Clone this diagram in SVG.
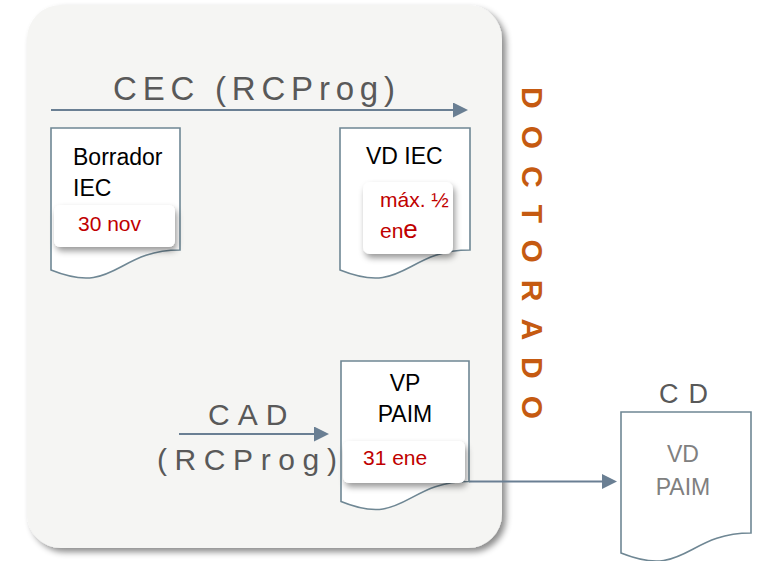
<svg xmlns="http://www.w3.org/2000/svg" width="760" height="561" viewBox="0 0 760 561">
<defs>
<style>
.doc{fill:#ffffff;stroke:#6f8794;stroke-width:1.6}
.tag{fill:#ffffff;filter:url(#tagShadow)}
.blk{font-family:"Liberation Sans",Arial,sans-serif;font-size:23px;fill:#000000}
.red{font-family:"Liberation Sans",Arial,sans-serif;font-size:21px;fill:#c00000}
.gry{font-family:"Liberation Sans",Arial,sans-serif;fill:#595959}
.lgry{font-family:"Liberation Sans",Arial,sans-serif;font-size:23px;fill:#808080}
.conn{fill:none;stroke:#6a7f93;stroke-width:2}
</style>
<filter id="boxShadow" x="-5%" y="-5%" width="112%" height="112%">
<feDropShadow dx="4" dy="4" stdDeviation="3" flood-color="#000000" flood-opacity="0.45"/>
</filter>
<filter id="tagShadow" x="-10%" y="-20%" width="125%" height="160%">
<feDropShadow dx="2" dy="4" stdDeviation="3" flood-color="#000000" flood-opacity="0.4"/>
</filter>
<marker id="arrow" markerUnits="userSpaceOnUse" markerWidth="16" markerHeight="16" refX="1" refY="7.5" orient="auto">
<path d="M0,0 L15,7.5 L0,15 Z" fill="#6a7f93"/>
</marker>
</defs>

<g id="container">
<rect x="27" y="5" width="475" height="543" rx="34" ry="34" fill="#f5f5f3" filter="url(#boxShadow)"/>
</g>

<g id="doctorado">
<text transform="translate(522,87) rotate(90)" x="0" y="0" font-family="'Liberation Sans',Arial,sans-serif" font-size="30" font-weight="bold" letter-spacing="17" fill="#c55a11">DOCTORADO</text>
</g>

<g id="connectors">
<path class="conn" d="M51,110 H454" marker-end="url(#arrow)"/>
<path class="conn" d="M179,434 H315" marker-end="url(#arrow)"/>
<path class="conn" d="M469,481.5 H603" marker-end="url(#arrow)"/>
</g>

<g id="label-cec">
<text class="gry" x="113" y="100" font-size="33" letter-spacing="5.8">CEC (RCProg)</text>
</g>

<g id="label-cad">
<text class="gry" x="208" y="425" font-size="30" letter-spacing="8">CAD</text>
<text class="gry" x="157" y="470" font-size="30" letter-spacing="7.6">(RCProg)</text>
</g>

<g id="doc-borrador">
<path class="doc" d="M51,128 H180 V250 C115.5,250 115.5,296 51,270 Z"/>
<text class="blk" x="73" y="165">Borrador</text>
<text class="blk" x="73" y="196">IEC</text>
<rect class="tag" x="54" y="205" width="121" height="42" rx="6" ry="6"/>
<text class="red" x="78" y="231">30 nov</text>
</g>

<g id="doc-vdiec">
<path class="doc" d="M340,128 H470 V250 C405,250 405,296 340,270 Z"/>
<text class="blk" x="366" y="164">VD IEC</text>
<rect class="tag" x="363" y="182" width="90" height="72" rx="7" ry="7"/>
<text class="red" x="380" y="206.5" font-size="20">máx. ½</text>
<text class="red" x="380" y="238" font-size="22">en<tspan font-size="26">e</tspan></text>
</g>

<g id="doc-vppaim">
<path class="doc" d="M341,361 H469 V481.5 C405,481.5 405,527.5 341,501.5 Z"/>
<text class="blk" x="405" y="391" text-anchor="middle">VP</text>
<text class="blk" x="405" y="422" text-anchor="middle">PAIM</text>
<rect class="tag" x="343" y="441" width="122" height="42" rx="6" ry="6"/>
<text class="red" x="363" y="465">31 ene</text>
</g>

<g id="doc-cd">
<text class="gry" x="659" y="403" font-size="27" letter-spacing="10">CD</text>
<path class="doc" d="M621,412 H751 V533 C686,533 686,579 621,553 Z"/>
<text class="lgry" x="683" y="462" text-anchor="middle">VD</text>
<text class="lgry" x="683" y="495" text-anchor="middle">PAIM</text>
</g>
</svg>
